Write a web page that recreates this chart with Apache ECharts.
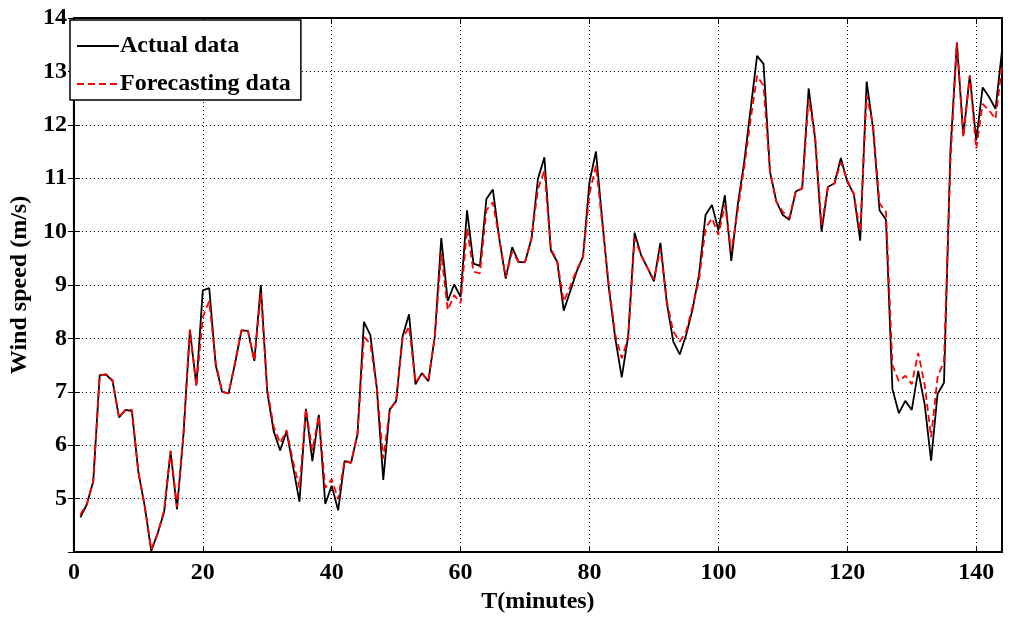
<!DOCTYPE html>
<html>
<head>
<meta charset="utf-8">
<script src="https://cdn.jsdelivr.net/npm/echarts@6/dist/echarts.min.js"></script>
<style>
html,body{margin:0;padding:0;background:#fff;}
#chart{width:1013px;height:619px;}
</style>
</head>
<body>
<div id="chart"></div>
<script>
// Wind speed (m/s), sampled at T = 1..144 minutes
const actualData = [
4.65,4.89,5.32,7.31,7.32,7.2,6.52,6.66,6.64,5.5,
4.85,4.02,4.35,4.75,5.88,4.8,6.2,8.15,7.12,8.9,
8.94,7.5,7.0,6.97,7.53,8.15,8.14,7.58,9.0,7.0,
6.26,5.9,6.26,5.6,4.94,6.68,5.7,6.57,4.9,5.24,
4.78,5.7,5.67,6.2,8.31,8.06,7.07,5.35,6.67,6.83,
8.04,8.45,7.14,7.35,7.2,8.04,9.88,8.7,9.01,8.78,
10.4,9.4,9.36,10.61,10.79,9.87,9.12,9.71,9.43,9.43,
9.87,10.99,11.39,9.65,9.43,8.52,8.88,9.25,9.53,10.93,
11.5,10.18,8.94,8.0,7.27,8.04,9.98,9.56,9.32,9.07,
9.79,8.66,7.94,7.7,8.07,8.55,9.2,10.31,10.5,10.03,
10.68,9.45,10.5,11.3,12.3,13.29,13.14,11.12,10.56,10.31,
10.22,10.75,10.81,12.68,11.74,10.0,10.84,10.9,11.38,10.93,
10.71,9.83,12.81,11.93,10.4,10.22,7.05,6.6,6.83,6.66,
7.39,6.77,5.71,6.96,7.17,11.52,13.54,11.8,12.92,11.71,
12.7,12.52,12.3,13.39
];
const forecastData = [
4.7,4.9,5.32,7.3,7.33,7.22,6.52,6.66,6.66,5.5,
4.85,4.05,4.35,4.78,5.9,4.85,6.2,8.17,7.1,8.4,
8.7,7.55,7.0,6.97,7.55,8.15,8.15,7.58,8.85,7.05,
6.35,6.04,6.28,5.7,5.2,6.68,5.9,6.55,5.2,5.36,
4.99,5.72,5.67,6.2,8.03,7.9,7.07,5.75,6.65,6.83,
8.0,8.22,7.17,7.35,7.2,8.04,9.59,8.53,8.81,8.66,
10.06,9.25,9.22,10.4,10.55,9.87,9.15,9.62,9.43,9.43,
9.87,10.8,11.14,9.68,9.45,8.69,8.97,9.28,9.53,10.71,
11.24,10.12,9.0,8.07,7.63,8.0,9.87,9.56,9.32,9.1,
9.68,8.69,8.13,7.94,8.13,8.6,9.1,10.06,10.25,9.94,
10.5,9.63,10.4,11.2,12.1,12.92,12.73,11.12,10.56,10.37,
10.25,10.75,10.81,12.48,11.8,10.12,10.84,10.9,11.3,10.96,
10.7,10.0,12.55,11.99,10.53,10.37,7.5,7.2,7.3,7.14,
7.73,7.14,6.15,7.27,7.58,11.3,13.54,11.77,12.92,11.55,
12.39,12.27,12.11,13.1
];
const seriesNames = ['Actual data', 'Forecasting data'];
const xTitle = 'T(minutes)';
const yTitle = 'Wind speed (m/s)';
const xRange = [0, 144];
const yRange = [4, 14];

const timeIdx = actualData.map((_, i) => i + 1);
const pairs = (arr) => arr.map((v, i) => [timeIdx[i], v]);

const FONT = '"Liberation Serif","Times New Roman",serif';
const labelStyle = {fontFamily: FONT, fontWeight: 'bold', fontSize: 24, color: '#000'};

const chart = echarts.init(document.getElementById('chart'), null, {renderer: 'canvas'});
chart.setOption({
  backgroundColor: '#fff',
  animation: false,
  grid: {left: 69, right: 11, top: 18, bottom: 65, show: true, borderColor: '#000', borderWidth: 2, backgroundColor: 'transparent'},
  legend: {
    left: 70, top: 20, orient: 'vertical',
    backgroundColor: '#fff', borderColor: '#000', borderWidth: 1.5,
    padding: [14, 10, 4, 6], itemGap: 14, itemWidth: 42, itemHeight: 14,
    itemStyle: {opacity: 0},
    textStyle: Object.assign({}, labelStyle, {padding: [0, 0, 0, -4]}),
    data: seriesNames
  },
  xAxis: [{
    type: 'value', min: xRange[0], max: xRange[1], interval: 20,
    name: xTitle, nameLocation: 'middle', nameGap: 38, nameTextStyle: labelStyle,
    axisLine: {show: true, lineStyle: {color: '#000', width: 2}},
    axisTick: {show: true, inside: true, length: 6, lineStyle: {color: '#000', width: 1}},
    axisLabel: Object.assign({}, labelStyle, {margin: 9, showMaxLabel: false,
      formatter: v => (v % 20 === 0 ? String(v) : '')}),
    splitLine: {show: true, lineStyle: {color: '#000', width: 1, type: [1, 3]}}
  }, {
    type: 'value', position: 'top', min: xRange[0], max: xRange[1], interval: 20,
    axisLine: {show: true, lineStyle: {color: '#000', width: 2}},
    axisTick: {show: true, inside: true, length: 6, lineStyle: {color: '#000', width: 1}},
    axisLabel: {show: false}, splitLine: {show: false}
  }],
  yAxis: [{
    type: 'value', min: yRange[0], max: yRange[1], interval: 1,
    name: yTitle, nameLocation: 'middle', nameGap: 35, nameTextStyle: labelStyle,
    axisLine: {show: true, lineStyle: {color: '#000', width: 2}},
    axisTick: {show: true, inside: true, length: 6, lineStyle: {color: '#000', width: 1}},
    axisLabel: Object.assign({}, labelStyle, {margin: 7,
      formatter: v => (v === yRange[0] ? '' : String(v))}),
    splitLine: {show: true, lineStyle: {color: '#000', width: 1, type: [1, 3]}}
  }, {
    type: 'value', position: 'right', min: yRange[0], max: yRange[1], interval: 1,
    axisLine: {show: true, lineStyle: {color: '#000', width: 2}},
    axisTick: {show: true, inside: true, length: 6, lineStyle: {color: '#000', width: 1}},
    axisLabel: {show: false}, splitLine: {show: false}
  }],
  series: [{
    name: seriesNames[0], type: 'line', xAxisIndex: 0, yAxisIndex: 0,
    data: pairs(actualData), symbol: 'none', z: 3,
    itemStyle: {color: '#000'},
    lineStyle: {color: '#000', width: 1.8}
  }, {
    name: seriesNames[1], type: 'line', xAxisIndex: 0, yAxisIndex: 0,
    data: pairs(forecastData), symbol: 'none', z: 4,
    itemStyle: {color: '#ff0000'},
    lineStyle: {color: '#ff0000', width: 1.8, type: [7, 4]}
  }]
});
</script>
</body>
</html>
